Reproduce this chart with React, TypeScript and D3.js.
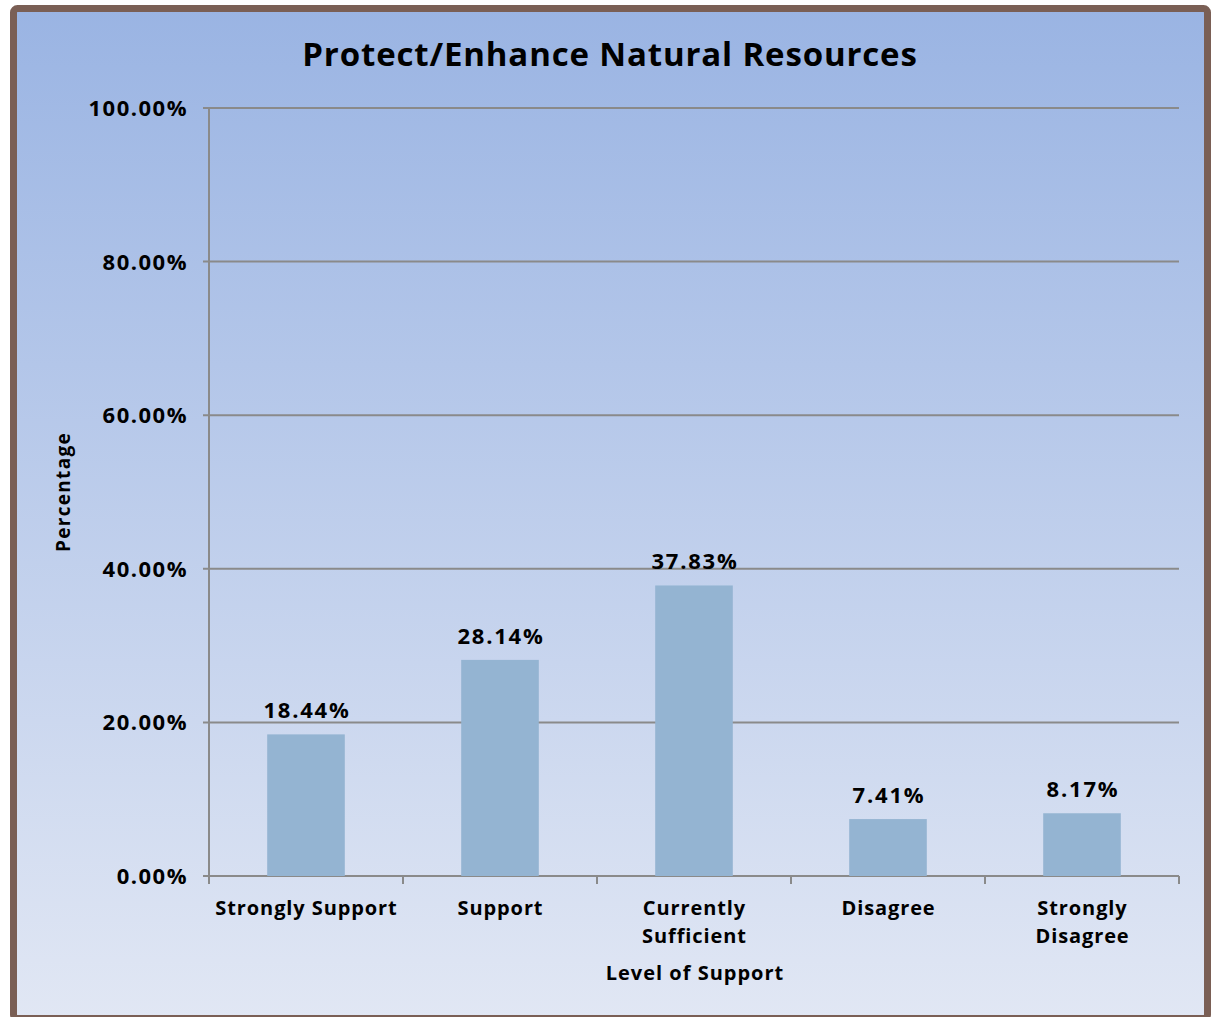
import React from "react";
import * as d3 from "d3";

const categories = ["Strongly Support", "Support", "Currently Sufficient", "Disagree", "Strongly Disagree"];
const categoryLines = [["Strongly Support"], ["Support"], ["Currently", "Sufficient"], ["Disagree"], ["Strongly", "Disagree"]];
const values = [18.44, 28.14, 37.83, 7.41, 8.17];
const yTicks = [0, 20, 40, 60, 80, 100];
const title = "Protect/Enhance Natural Resources";
const xTitle = "Level of Support";
const yTitle = "Percentage";

const W = 1215, H = 1017;
const FONT = "'Open Sans', sans-serif";

export default function App() {
  const x = d3.scaleBand<string>().domain(categories).range([209, 1179]).padding(0);
  const y = d3.scaleLinear().domain([0, 100]).range([876, 108]);
  const barW = x.bandwidth() * 0.4;
  return (
    <svg width={W} height={H} style={{ position: "absolute", left: 0, top: 0 }} fontFamily={FONT}>
      <defs>
        <linearGradient id="bg" x1="0" y1="0" x2="0" y2="1">
          <stop offset="0" stopColor="#9ab4e3" />
          <stop offset="1" stopColor="#e1e7f4" />
        </linearGradient>
      </defs>
      <rect x={13.5} y={8.5} width={1194} height={1010} rx={4} fill="url(#bg)" stroke="#7a5f55" strokeWidth={7} />
      <text x={610} y={66} textAnchor="middle" fontSize={33} fontWeight={700} letterSpacing={0.85} fill="#000">{title}</text>
      {yTicks.map((t) => (
        <g key={t}>
          <line x1={203} x2={1179} y1={y(t)} y2={y(t)} stroke="#8a8a8a" strokeWidth={2} />
          <text x={188} y={y(t) + 8} textAnchor="end" fontSize={22} fontWeight={700} letterSpacing={1.5}>{t.toFixed(2)}%</text>
        </g>
      ))}
      <line x1={209} x2={209} y1={108} y2={876} stroke="#8a8a8a" strokeWidth={2} />
      {categories.map((c, i) => (
        <line key={c} x1={209 + x.step() * i} x2={209 + x.step() * i} y1={876} y2={884} stroke="#8a8a8a" strokeWidth={2} />
      ))}
      <line x1={1179} x2={1179} y1={876} y2={884} stroke="#8a8a8a" strokeWidth={2} />
      {categories.map((c, i) => {
        const cx = (x(c) as number) + x.bandwidth() / 2;
        return (
          <g key={c}>
            <rect x={cx - barW / 2} y={y(values[i])} width={barW} height={876 - y(values[i])} fill="#94b4d2" />
            <text x={cx + 1} y={y(values[i]) - 16} textAnchor="middle" fontSize={22} fontWeight={700} letterSpacing={1.8}>{values[i].toFixed(2)}%</text>
            {categoryLines[i].map((l, j) => (
              <text key={j} x={cx + 0.5} y={915 + j * 28} textAnchor="middle" fontSize={20} fontWeight={700} letterSpacing={0.9}>{l}</text>
            ))}
          </g>
        );
      })}
      <text x={695} y={980} textAnchor="middle" fontSize={20} fontWeight={700} letterSpacing={1}>{xTitle}</text>
      <text transform="translate(70,492) rotate(-90)" textAnchor="middle" fontSize={19} fontWeight={700} letterSpacing={1.3}>{yTitle}</text>
    </svg>
  );
}
